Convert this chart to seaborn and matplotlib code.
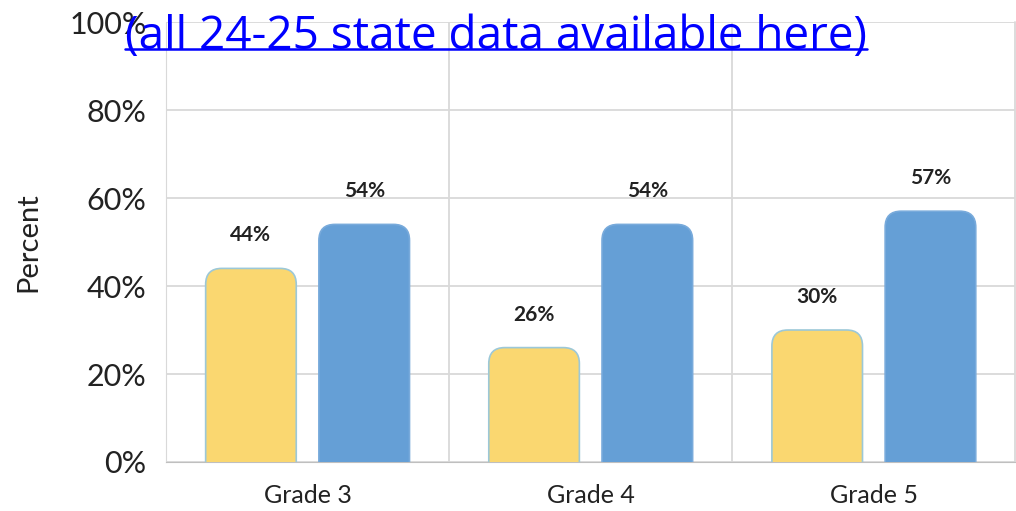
import numpy as np
import pandas as pd
import matplotlib
matplotlib.use("Agg")
import matplotlib.pyplot as plt
import seaborn as sns
from matplotlib.patches import FancyBboxPatch
from matplotlib.lines import Line2D

# Data
grades = ['Grade 3', 'Grade 4', 'Grade 5']
series = ['A', 'B']
values_a = [44, 26, 30]
values_b = [54, 54, 57]
y_ticks = [0, 20, 40, 60, 80, 100]

df = pd.DataFrame({
    'grade': grades * 2,
    'series': [series[0]] * 3 + [series[1]] * 3,
    'value': values_a + values_b,
})

sns.set_style('white')
plt.rcParams['font.family'] = ['Lato', 'DejaVu Sans']

fig = plt.figure(figsize=(10.16, 5.11), dpi=100)
ax = fig.add_axes([0.1634, 0.0959, 0.836, 0.861])

colors = {'A': '#FAD770', 'B': '#659FD6'}
edges = {'A': '#9CC8D8', 'B': '#78AADB'}
sns.barplot(data=df, x='grade', y='value', hue='series', palette=colors,
            gap=0.2, width=0.8, legend=False, ax=ax, zorder=3)

ax.set_xlim(-0.5, 2.5)
ax.set_ylim(0, 100)

# rounded tops: replace rectangles with fancy boxes extending below zero
fig.canvas.draw()
bbox = ax.get_window_extent()
x_per_px = 3.0 / bbox.width
y_per_px = 100.0 / bbox.height
aspect = y_per_px / x_per_px
patches = list(ax.patches)
for i, p in enumerate(patches):
    s = series[i // 3]
    x, w, h = p.get_x(), p.get_width(), p.get_height()
    p.remove()
    fb = FancyBboxPatch((x, -10), w, h + 10,
                        boxstyle='round,pad=0,rounding_size=%f' % (16 * x_per_px),
                        mutation_aspect=aspect, facecolor=colors[s],
                        edgecolor=edges[s], linewidth=1.2, zorder=3)
    ax.add_patch(fb)
    ax.text(x + w / 2, h + 7.5, '%d%%' % h, ha='center', va='center',
            fontsize=15, fontweight='bold', color='#222222')

# grid
ax.set_yticks(y_ticks)
ax.set_yticklabels(['%d%%' % t for t in y_ticks], fontsize=22, color='#222222')
ax.yaxis.grid(True, color='#D9D9D9', linewidth=1.3, zorder=0)
for xv in [0.5, 1.5]:
    ax.axvline(xv, color='#D9D9D9', linewidth=1.3, zorder=0)
ax.tick_params(axis='y', length=0, pad=14)
ax.tick_params(axis='x', length=0, pad=16, labelsize=18, labelcolor='#222222')
ax.set_xlabel('')
ax.set_ylabel('Percent', fontsize=21, color='#222222', labelpad=20)
for side in ['top', 'right']:
    ax.spines[side].set_visible(False)
ax.spines['left'].set_color('#D9D9D9')
ax.spines['bottom'].set_color('#BFBFBF')
ax.axvline(2.5, color='#D9D9D9', linewidth=1.3, zorder=0, clip_on=False)

# link-like title with underline
t = fig.text(0.488, 0.927, '(all 24-25 state data available here)', ha='center',
             va='center', fontsize=33, color='#0000FF', family=['Open Sans', 'DejaVu Sans'])
fig.canvas.draw()
tb = t.get_window_extent()
uy = (tb.y0 + 11) / fig.bbox.height
fig.add_artist(Line2D([tb.x0 / fig.bbox.width, tb.x1 / fig.bbox.width], [uy, uy],
                      color='#0000FF', linewidth=1.8))

fig.savefig('out.png', dpi=100)
